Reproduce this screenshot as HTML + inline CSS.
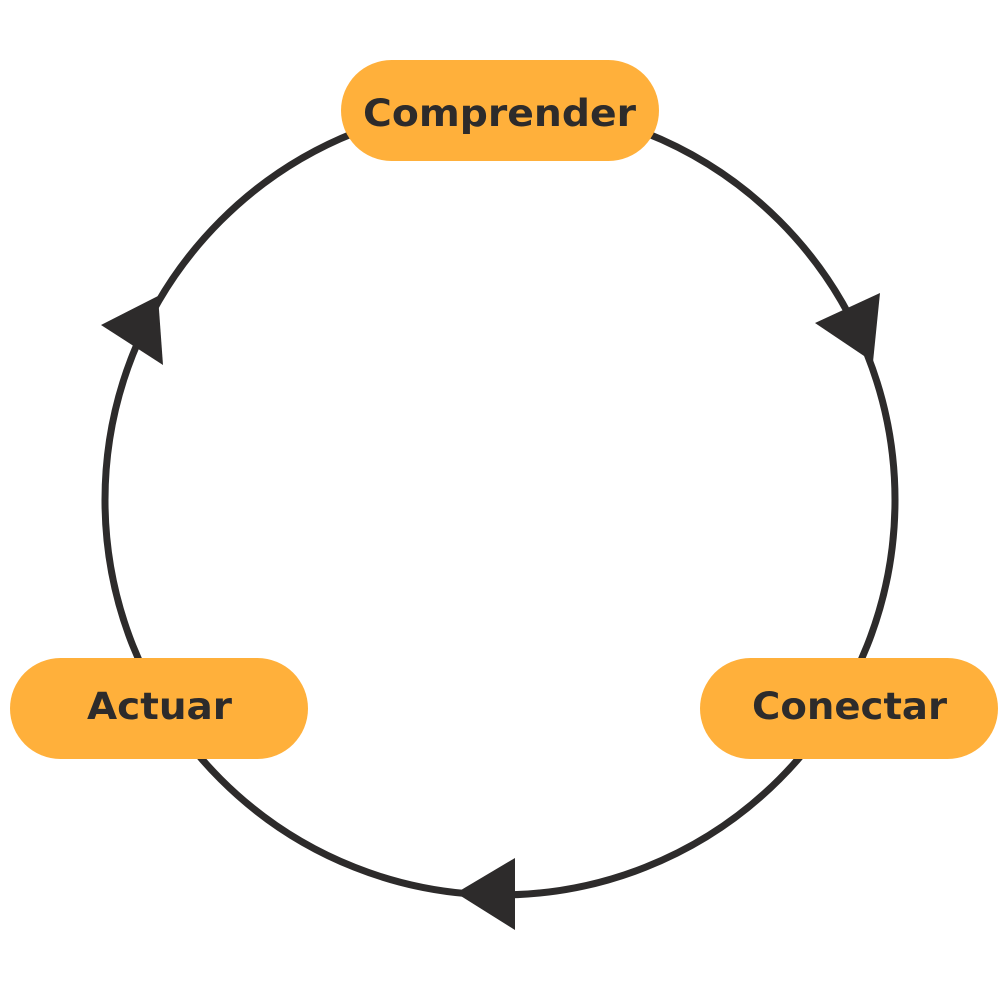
<!DOCTYPE html>
<html><head><meta charset="utf-8"><style>
html,body{margin:0;padding:0;background:#fff;width:1000px;height:1000px;overflow:hidden}
</style></head><body>
<svg width="1000" height="1000" xmlns="http://www.w3.org/2000/svg">
<circle cx="500" cy="500" r="395" fill="none" stroke="#2d2b2b" stroke-width="7"/>
<polygon points="815,323 880,293 873,362" fill="#2d2b2b"/>
<polygon points="101,325 158,296 163,365" fill="#2d2b2b"/>
<polygon points="456,893 515,858 515,930" fill="#2d2b2b"/>
<rect x="341" y="60" width="318" height="101" rx="50.5" fill="#ffb03b"/>
<rect x="10" y="658" width="298" height="101" rx="50.5" fill="#ffb03b"/>
<rect x="700" y="658" width="298" height="101" rx="50.5" fill="#ffb03b"/>
<g font-family="'DejaVu Sans','Liberation Sans',sans-serif" font-weight="bold" font-size="37" fill="#2d2b2b" lengthAdjust="spacingAndGlyphs">
<text x="363" y="126" textLength="273" lengthAdjust="spacingAndGlyphs">Comprender</text>
<text x="87" y="719" textLength="145" lengthAdjust="spacingAndGlyphs">Actuar</text>
<text x="752" y="719" textLength="195" lengthAdjust="spacingAndGlyphs">Conectar</text>
</g>
</svg>
</body></html>
